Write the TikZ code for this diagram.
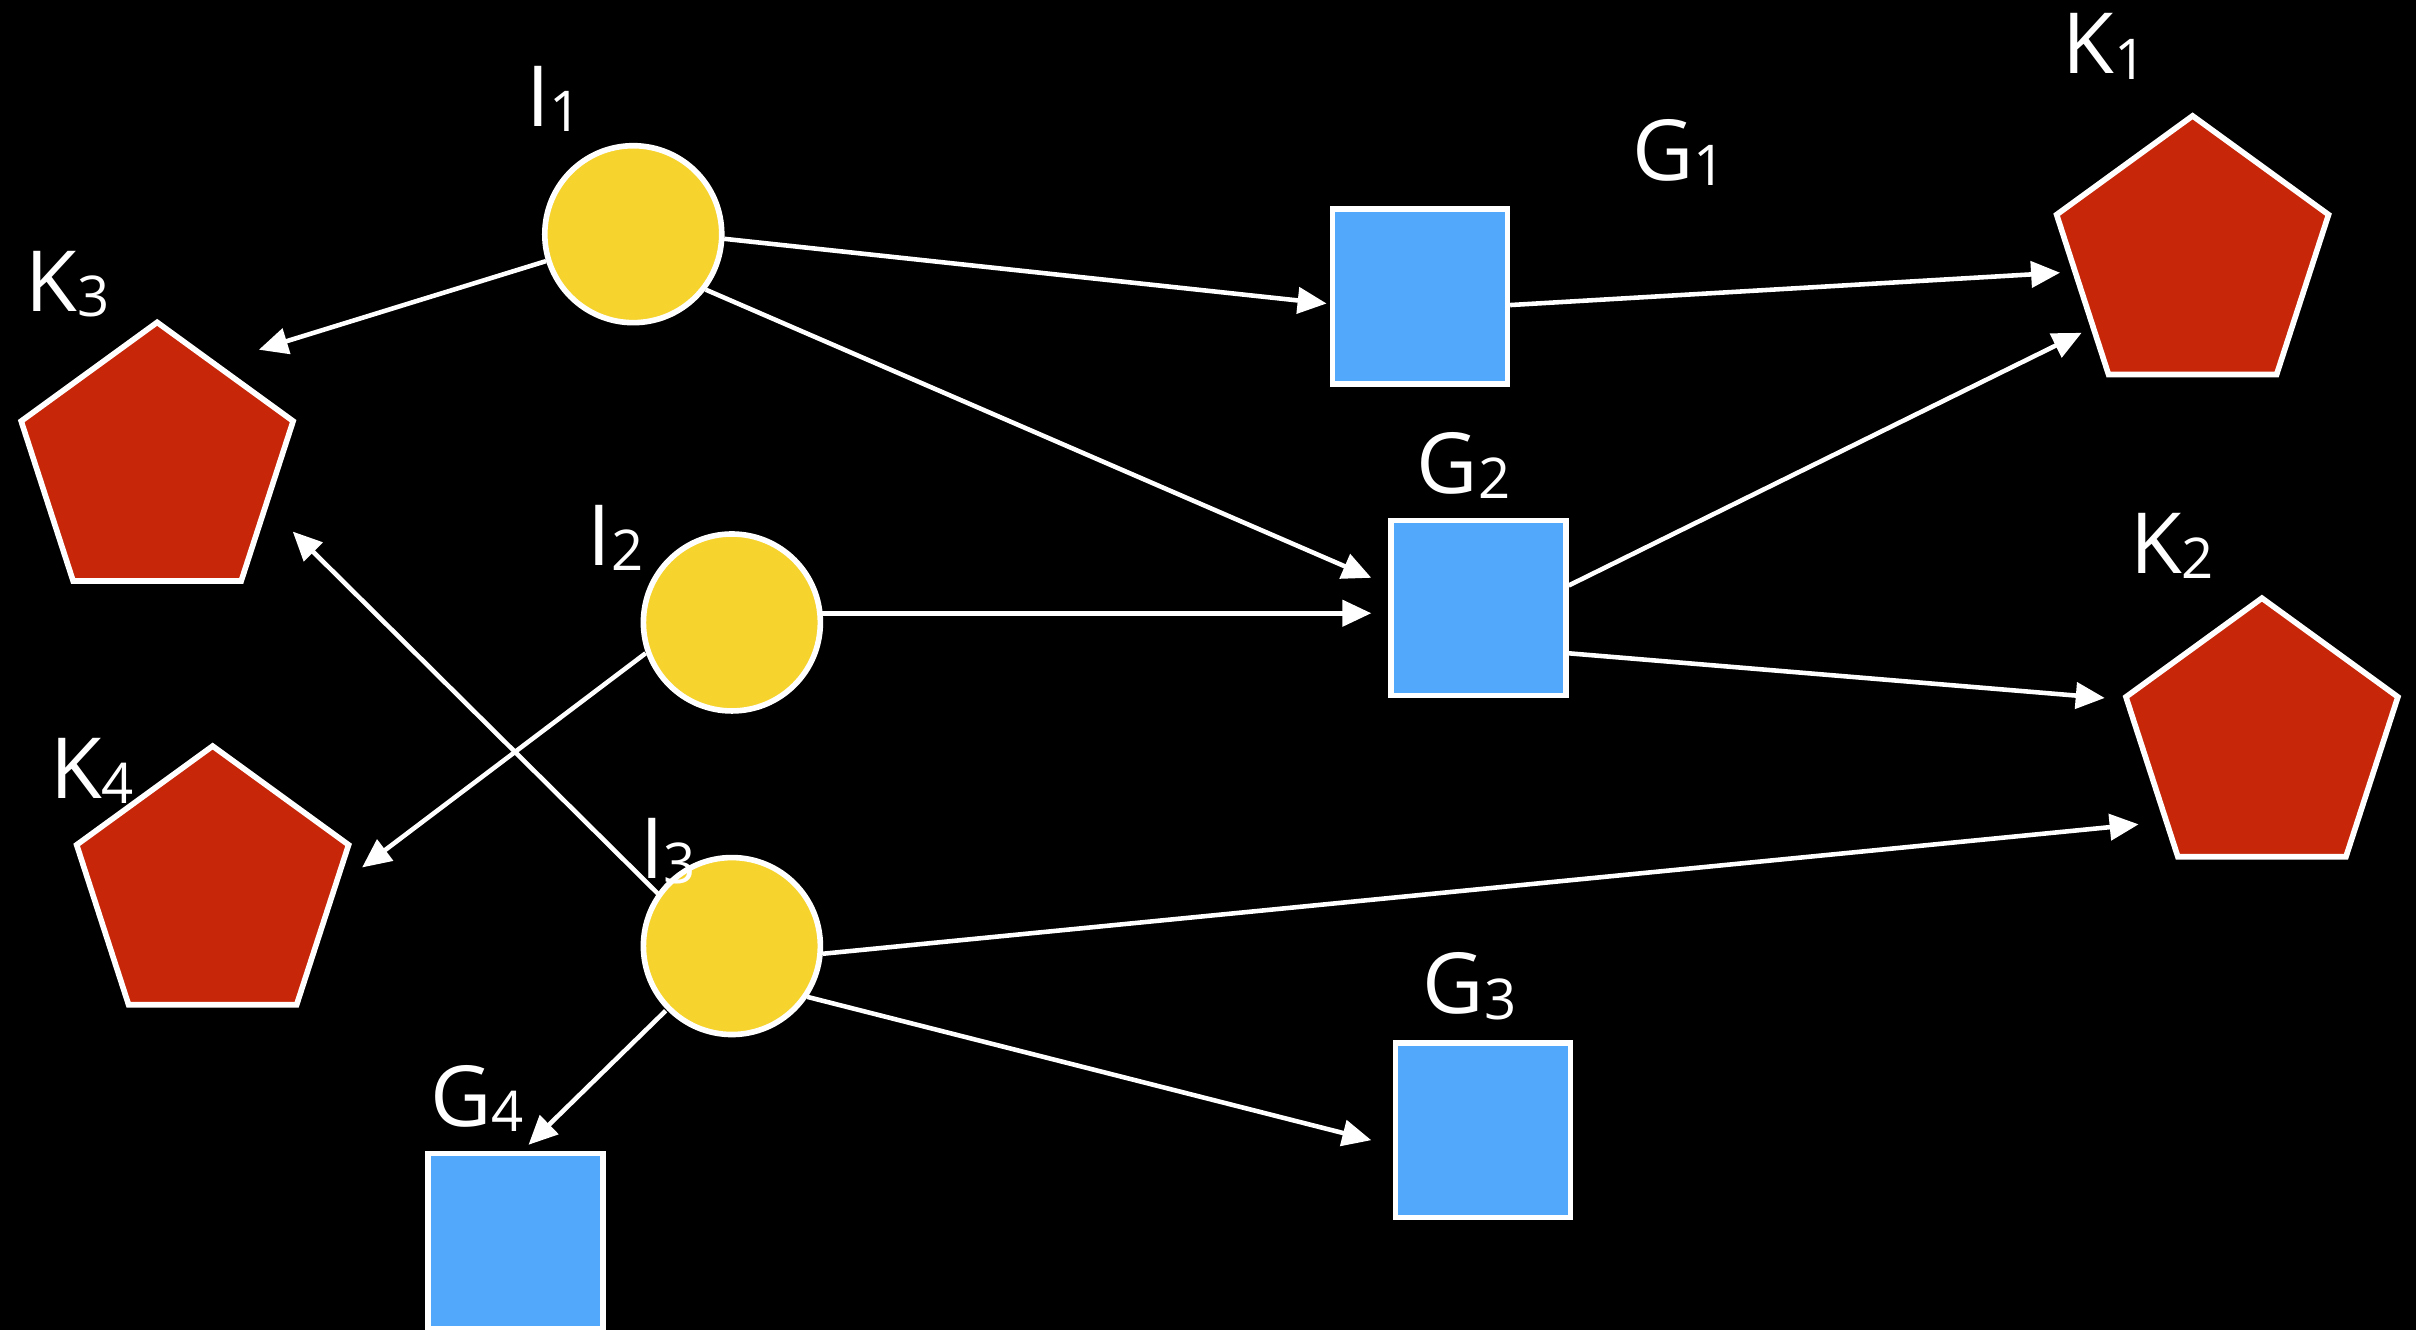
\documentclass[tikz,border=0pt]{standalone}
\usepackage{fontspec}
\setmainfont{Open Sans}
\usetikzlibrary{shapes.geometric,arrows.meta,calc}
\definecolor{ycol}{RGB}{246,211,45}
\definecolor{bcol}{RGB}{82,168,250}
\definecolor{rcol}{RGB}{199,38,8}
\newcommand{\lbl}[2]{#1\raisebox{-1.5pt}{\fontsize{16}{16}\selectfont #2}}
\begin{document}
\begin{tikzpicture}[x=0.015408cm,y=-0.015408cm,
  circ/.style={circle, draw=white, fill=ycol, line width=1.6pt, minimum size=1.77cm, inner sep=0pt},
  sq/.style={rectangle, draw=white, fill=bcol, line width=1.6pt, minimum width=1.75cm, minimum height=1.75cm, inner sep=0pt},
  pent/.style={regular polygon, regular polygon sides=5, draw=white, fill=rcol, line width=1.6pt, minimum size=2.86cm, inner sep=0pt},
  lab/.style={text=white, font=\fontsize{24}{24}\selectfont, anchor=base west, inner sep=0pt},
  arr/.style={draw=white, line width=1.3pt, -{Triangle[length=0.29cm,width=0.26cm]}}]
\fill[black] (0,0) rectangle (1568,863);
\useasboundingbox (0,0) rectangle (1568,863);

% nodes
\node[circ] (I1) at (411,152) {};
\node[circ] (I2) at (475,404) {};
\node[circ] (I3) at (475,614) {};
\node[sq] (G1) at (921.5,192.5) {};
\node[sq] (G2) at (959.5,394.5) {};
\node[sq] (G3) at (962.5,733.5) {};
\node[sq] (G4) at (334.5,805.5) {};
\node[pent] (K1) at (1423,168) {};
\node[pent] (K2) at (1468,481) {};
\node[pent] (K3) at (102,302) {};
\node[pent] (K4) at (138,577) {};

% labels
\node[lab] (lI1) at (341,82) {\lbl{I}{1}};
\node[lab] (lG1) at (1059,117) {\lbl{G}{1}};
\node[lab] (lK1) at (1338,48) {\lbl{K}{1}};
\node[lab] (lK3) at (16,202) {\lbl{K}{3}};
\node[lab] (lI2) at (381,367) {\lbl{I}{2}};
\node[lab] (lG2) at (919,320) {\lbl{G}{2}};
\node[lab] (lK2) at (1382,372) {\lbl{K}{2}};
\node[lab] (lK4) at (32,518) {\lbl{K}{4}};
\node[lab] (lI3) at (415,570) {\lbl{I}{3}};
\node[lab] (lG3) at (923,658) {\lbl{G}{3}};
\node[lab] (lG4) at (279,731) {\lbl{G}{4}};

% arrow tips
\coordinate (tK3a) at (168,227);
\coordinate (tG1) at (861,197);
\coordinate (tG2a) at (890,375);
\coordinate (tK1a) at (1337,177);
\coordinate (tK1b) at (1351,216);
\coordinate (tK2a) at (1366,453);
\coordinate (tG2b) at (890,398);
\coordinate (tK4) at (235,563);
\coordinate (tK3b) at (190,345);
\coordinate (tK2b) at (1388,535);
\coordinate (tG3) at (890,740);
\coordinate (tG4) at (343,743);

% connectors
\draw[arr] (I1) -- (tK3a);
\draw[arr] ($(I1.center)+(59,3)$) -- (tG1);
\draw[arr] ($(I1.center)+(47,36)$) -- (tG2a);
\draw[arr] ($(G1.east)+(0,5.5)$) -- (tK1a);
\draw[arr] ($(G2.east)+(0,-14.5)$) -- (tK1b);
\draw[arr] ($(G2.east)+(0,29.5)$) -- (tK2a);
\draw[arr] ($(I2.center)+(58.7,-6)$) -- (tG2b);
\draw[arr] ($(I2.center)+(-56,20)$) -- (tK4);
\draw[arr] ($(I3.center)+(-48,-34)$) -- (tK3b);
\draw[arr] ($(I3.center)+(59,5)$) -- (tK2b);
\draw[arr] ($(I3.center)+(49,33)$) -- (tG3);
\draw[arr] ($(I3.center)+(-43,42)$) -- (tG4);
\end{tikzpicture}
\end{document}
